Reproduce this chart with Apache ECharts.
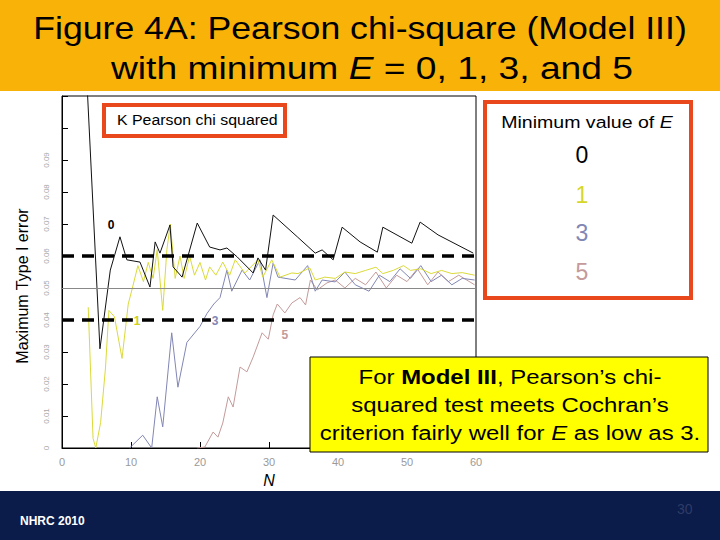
<!DOCTYPE html>
<html><head><meta charset="utf-8">
<script src="https://cdn.jsdelivr.net/npm/echarts@6/dist/echarts.min.js"></script>
<style>html,body{margin:0;padding:0;background:#fff}#c{width:720px;height:540px}</style>
</head><body><div id="c"></div>
<script>
// Data (N, maximum Type I error)
const nE0 = [3.6, 5.5, 7.0, 8.4, 9.4, 11.3, 12.75, 13.5, 14.2, 15.65, 16.1, 17.4, 19.6, 21.4, 22.9, 23.9, 25.4, 27.7, 28.4, 29.5, 30.6, 34.1, 36.7, 37.7, 39.3, 40.6, 43.2, 45.7, 46.5, 50.7, 51.9, 54.5, 59.6];
const pE0 = [0.115, 0.031, 0.0556, 0.066, 0.0588, 0.0581, 0.0503, 0.0644, 0.0609, 0.0697, 0.0566, 0.0534, 0.0703, 0.0628, 0.0619, 0.0625, 0.0597, 0.0547, 0.0594, 0.0556, 0.0728, 0.066, 0.0609, 0.0619, 0.0588, 0.069, 0.0644, 0.0612, 0.069, 0.064, 0.0706, 0.0666, 0.0609];

const nE1 = [3.8, 4.5, 4.9, 5.6, 6.3, 6.8, 7.6, 8.7, 9.6, 10.2, 11.0, 11.8, 12.5, 13.2, 13.8, 14.6, 15.2, 15.7, 16.4, 17.1, 17.7, 18.5, 19.2, 20.0, 20.8, 21.4, 22.3, 23.3, 24.3, 25.1, 26.5, 28.4, 29.1, 30.4, 31.6, 33.3, 34.2, 35.9, 36.7, 38.1, 39.6, 41.0, 42.5, 44.0, 45.5, 46.5, 48.0, 49.5, 50.5, 52.0, 53.5, 55.0, 56.5, 58.0, 59.8];
const pE1 = [0.044, 0.003, 0.0, 0.008, 0.025, 0.043, 0.041, 0.028, 0.045, 0.050, 0.057, 0.052, 0.058, 0.053, 0.062, 0.043, 0.062, 0.070, 0.053, 0.060, 0.053, 0.060, 0.054, 0.058, 0.0525, 0.0566, 0.054, 0.0581, 0.054, 0.0588, 0.0547, 0.0588, 0.0534, 0.0588, 0.0534, 0.0547, 0.0545, 0.0563, 0.0525, 0.0534, 0.053, 0.055, 0.0545, 0.0555, 0.0565, 0.0545, 0.0555, 0.057, 0.0555, 0.056, 0.0545, 0.0555, 0.0545, 0.0548, 0.054];

const nE3 = [9.8, 11.7, 13.0, 13.8, 14.6, 15.9, 16.8, 18.1, 20.0, 21.0, 22.0, 22.9, 23.9, 24.6, 26.1, 27.2, 28.7, 29.7, 30.6, 31.3, 33.8, 35.6, 36.7, 37.7, 39.6, 41.0, 42.5, 44.5, 46.0, 47.5, 49.0, 50.5, 52.0, 53.5, 55.0, 56.5, 58.0, 59.8];
const pE3 = [0.0, 0.004, 0.0, 0.016, 0.0066, 0.036, 0.019, 0.033, 0.038, 0.042, 0.045, 0.047, 0.0556, 0.049, 0.0556, 0.0525, 0.0588, 0.047, 0.0578, 0.0534, 0.0525, 0.057, 0.049, 0.0525, 0.0519, 0.055, 0.051, 0.049, 0.054, 0.052, 0.056, 0.053, 0.057, 0.052, 0.054, 0.051, 0.053, 0.0525];

const nE5 = [19.6, 20.7, 21.9, 22.6, 23.3, 24.1, 24.8, 25.8, 26.8, 27.7, 29.0, 29.9, 30.6, 31.2, 32.3, 33.3, 34.5, 35.3, 36.0, 37.0, 38.4, 39.6, 41.0, 42.5, 44.0, 45.5, 47.0, 48.5, 50.0, 51.5, 53.0, 54.5, 56.0, 57.5, 59.8];
const pE5 = [0.0, 0.0003, 0.005, 0.0034, 0.0078, 0.016, 0.0128, 0.0253, 0.0238, 0.0284, 0.036, 0.034, 0.0416, 0.045, 0.0422, 0.0453, 0.047, 0.0447, 0.0525, 0.0494, 0.0516, 0.0525, 0.05, 0.053, 0.051, 0.055, 0.05, 0.054, 0.052, 0.056, 0.051, 0.055, 0.052, 0.054, 0.051];

const xTicks = [0, 10, 20, 30, 40, 50, 60];
const cochranBounds = [0.04, 0.06];
const alphaLevel = 0.05;
const legendValues = ['0', '1', '3', '5'];

const cBlack = '#111111', cYellow = '#DADA3A', cBlue = '#8286B4', cPink = '#C49A9A';
const cRed = '#E8481C';
const SX = 1.15; // horizontal stretch of slide text
const zip = (a, b) => a.map((v, i) => [v, b[i]]);

const chart = echarts.init(document.getElementById('c'), null, {renderer: 'svg'});
const lineBase = {type: 'line', showSymbol: false, symbol: 'none', smooth: false, clip: true, silent: true, z: 3};
const lbl = (c, p, text, color) => ({coord: [c, p], symbol: 'circle', symbolSize: 0,
  label: {show: true, position: 'inside', formatter: text, color: color, fontSize: 12, fontWeight: 'bold', fontFamily: 'Liberation Sans', backgroundColor: '#fff', padding: [0, 1]}});
const F = 'Liberation Sans';

chart.setOption({
  animation: false,
  backgroundColor: '#fff',
  grid: {left: 62, right: 244, top: 96, bottom: 92, show: true, borderColor: '#000', borderWidth: 1, backgroundColor: 'transparent'},
  xAxis: {type: 'value', min: 0, max: 60, interval: 10,
    name: 'N', nameLocation: 'middle', nameGap: 24,
    nameTextStyle: {fontStyle: 'italic', fontSize: 16, color: '#000', fontFamily: F},
    axisLine: {lineStyle: {color: '#000'}}, axisTick: {inside: true, length: 6, lineStyle: {color: '#000'}},
    axisLabel: {color: '#9a9a9a', fontSize: 11, margin: 8, fontFamily: F, customValues: xTicks}, splitLine: {show: false}},
  yAxis: {type: 'value', min: 0, max: 0.11, interval: 0.01,
    axisLine: {lineStyle: {color: '#000'}}, axisTick: {inside: true, length: 6, lineStyle: {color: '#000'}},
    axisLabel: {color: '#a8a8a8', fontSize: 8, rotate: 90, margin: 12, fontFamily: F,
      formatter: v => (v > 0.095 ? '' : (v === 0 ? '0' : v.toFixed(2)))}, splitLine: {show: false}},
  series: [
    Object.assign({}, lineBase, {name: 'E=5', data: zip(nE5, pE5), lineStyle: {color: cPink, width: 1},
      markPoint: {silent: true, data: [lbl(32.3, 0.0353, '5', cPink)]}}),
    Object.assign({}, lineBase, {name: 'E=3', data: zip(nE3, pE3), lineStyle: {color: cBlue, width: 1},
      markPoint: {silent: true, data: [lbl(22.2, 0.0397, '3', cBlue)]}}),
    Object.assign({}, lineBase, {name: 'E=1', data: zip(nE1, pE1), lineStyle: {color: cYellow, width: 1},
      markPoint: {silent: true, data: [lbl(10.9, 0.0397, '1', '#D0D020')]}}),
    Object.assign({}, lineBase, {name: 'E=0', data: zip(nE0, pE0), lineStyle: {color: cBlack, width: 1},
      markPoint: {silent: true, data: [lbl(7.1, 0.0697, '0', '#000')]}}),
    {type: 'line', data: [], silent: true, z: 2,
      markLine: {silent: true, symbol: 'none', label: {show: false},
        data: [
          {yAxis: alphaLevel, lineStyle: {color: '#888', width: 1, type: 'solid'}},
          {yAxis: cochranBounds[0], lineStyle: {color: '#000', width: 3.5, type: [12, 8]}},
          {yAxis: cochranBounds[1], lineStyle: {color: '#000', width: 3.5, type: [12, 8]}}
        ]}}
  ],
  graphic: [
    {type: 'text', z: 50, x: 22, y: 286, rotation: Math.PI / 2, style: {text: 'Maximum Type I error', font: '16px "Liberation Sans"', fill: '#000', align: 'center', verticalAlign: 'middle'}},
    {type: 'rect', z: 100, shape: {x: 0, y: 0, width: 720, height: 91}, style: {fill: '#F9B208'}},
    {type: 'text', z: 101, x: 360, y: 28, scaleX: SX, style: {text: 'Figure 4A: Pearson chi-square (Model III)', font: '31px "Liberation Sans", sans-serif', fill: '#000', align: 'center', verticalAlign: 'middle'}},
    {type: 'text', z: 101, x: 372, y: 68, scaleX: 1.2, style: {text: '{a|with minimum }{b|E}{a| = 0, 1, 3, and 5}', align: 'center', verticalAlign: 'middle',
      rich: {a: {fontSize: 31, fontFamily: F, color: '#000'},
             b: {fontSize: 31, fontStyle: 'italic', fontFamily: F, color: '#000'}}}},
    {type: 'rect', z: 100, shape: {x: 0, y: 491, width: 720, height: 49}, style: {fill: '#0B1B4A'}},
    {type: 'text', z: 101, left: 20, top: 515, style: {text: 'NHRC 2010', font: 'bold 12px "Liberation Sans"', fill: '#fff'}},
    {type: 'text', z: 101, left: 677, top: 502, style: {text: '30', font: '14px "Liberation Sans"', fill: '#2E3C66'}},
    {type: 'rect', z: 90, shape: {x: 104, y: 105, width: 181, height: 31}, style: {fill: '#fff', stroke: cRed, lineWidth: 4}},
    {type: 'text', z: 91, x: 117, y: 120, scaleX: 1.06, style: {text: 'K Pearson chi squared', font: '15px "Liberation Sans"', fill: '#000', verticalAlign: 'middle'}},
    {type: 'rect', z: 90, shape: {x: 485, y: 102, width: 206, height: 196}, style: {fill: '#fff', stroke: cRed, lineWidth: 4}},
    {type: 'text', z: 91, x: 587, y: 122, scaleX: SX, style: {text: '{a|Minimum value of }{b|E}', align: 'center', verticalAlign: 'middle',
      rich: {a: {fontSize: 17, fontFamily: F, color: '#000'}, b: {fontSize: 17, fontStyle: 'italic', fontFamily: F, color: '#000'}}}},
    {type: 'text', z: 91, x: 582, y: 155, style: {text: legendValues[0], font: '23px "Liberation Sans"', fill: '#000', align: 'center', verticalAlign: 'middle'}},
    {type: 'text', z: 91, x: 582, y: 195, style: {text: legendValues[1], font: '23px "Liberation Sans"', fill: '#D6D62A', align: 'center', verticalAlign: 'middle'}},
    {type: 'text', z: 91, x: 582, y: 233, style: {text: legendValues[2], font: '23px "Liberation Sans"', fill: cBlue, align: 'center', verticalAlign: 'middle'}},
    {type: 'text', z: 91, x: 582, y: 272, style: {text: legendValues[3], font: '23px "Liberation Sans"', fill: cPink, align: 'center', verticalAlign: 'middle'}},
    {type: 'rect', z: 95, shape: {x: 310, y: 357, width: 398, height: 95}, style: {fill: '#FFFF00', stroke: '#000', lineWidth: 1}},
    {type: 'text', z: 96, x: 510, y: 405, scaleX: 1.14, style: {
      text: '{a|For }{b|Model III}{a|, Pearson’s chi-}\n{a|squared test meets Cochran’s}\n{a|criterion fairly well for }{i|E}{a| as low as 3.}',
      align: 'center', verticalAlign: 'middle', lineHeight: 28.5,
      rich: {a: {fontSize: 21, fontFamily: F, color: '#000', lineHeight: 28.5},
             b: {fontSize: 21, fontFamily: F, fontWeight: 'bold', color: '#000', lineHeight: 28.5},
             i: {fontSize: 21, fontFamily: F, fontStyle: 'italic', color: '#000', lineHeight: 28.5}}}}
  ]
});
</script></body></html>
